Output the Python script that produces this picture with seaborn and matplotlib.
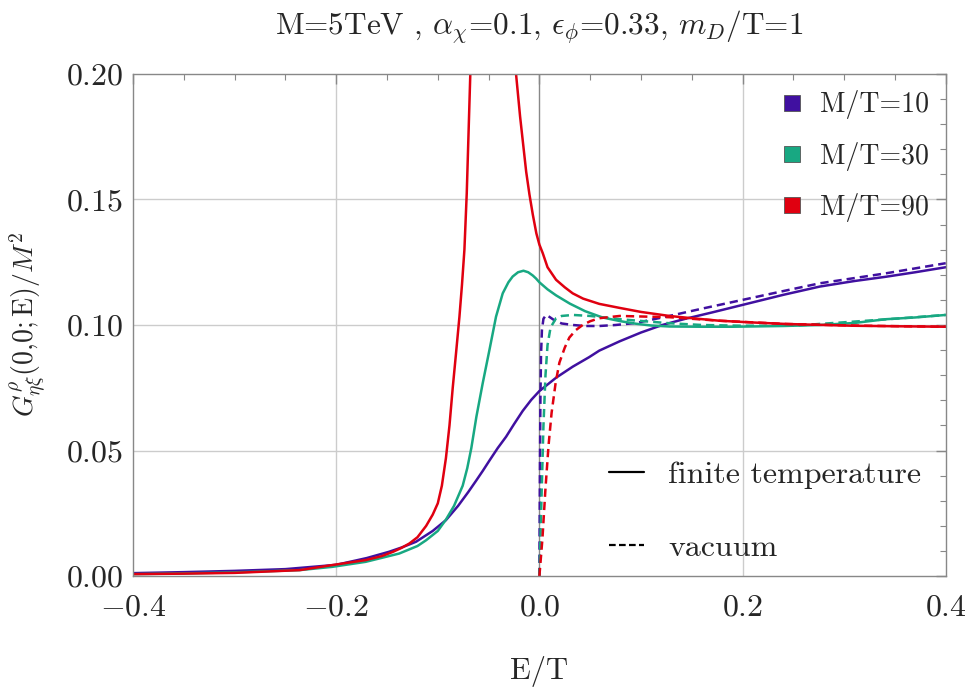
import numpy as np
import pandas as pd
import matplotlib
matplotlib.use("Agg")
import matplotlib.pyplot as plt
from matplotlib.lines import Line2D
from matplotlib.ticker import MultipleLocator, FixedLocator, FixedFormatter
import seaborn as sns

# ---- spectral function samples, G/M^2 versus E/T ----
# finite temperature, M/T = 10
E_th10 = [-0.40, -0.35, -0.30, -0.25, -0.20, -0.17, -0.148, -0.135, -0.1214, -0.105,
          -0.092, -0.08, -0.07, -0.0623, -0.0556, -0.0492, -0.041, -0.0328, -0.025,
          -0.0164, -0.008, 0.0, 0.0164, 0.0328, 0.049, 0.059, 0.079, 0.10, 0.121,
          0.144, 0.17, 0.20, 0.24, 0.276, 0.31, 0.341, 0.37, 0.40]
G_th10 = [0.0012, 0.0016, 0.0021, 0.0028, 0.0045, 0.0072, 0.0097, 0.0115, 0.0137, 0.018,
          0.0223, 0.028, 0.0335, 0.038, 0.042, 0.046, 0.051, 0.0555, 0.0605,
          0.0658, 0.0702, 0.0737, 0.0790, 0.0834, 0.0872, 0.0898, 0.0935, 0.097, 0.100,
          0.1025, 0.105, 0.108, 0.112, 0.1153, 0.1175, 0.1192, 0.121, 0.123]

# finite temperature, M/T = 30
E_th30 = [-0.40, -0.35, -0.30, -0.236, -0.204, -0.171, -0.138, -0.12, -0.1115, -0.10,
          -0.092, -0.084, -0.0755, -0.071, -0.067, -0.062, -0.0558, -0.0492, -0.0427,
          -0.0361, -0.0305, -0.0263, -0.021, -0.0157, -0.011, -0.0065, -0.0033, 0.0,
          0.008, 0.0164, 0.03, 0.045, 0.062, 0.08, 0.095, 0.11, 0.128, 0.16, 0.19,
          0.24, 0.2756, 0.31, 0.341, 0.37, 0.40]
G_th30 = [0.0008, 0.0011, 0.0015, 0.0024, 0.0037, 0.0057, 0.009, 0.012, 0.0143, 0.018,
          0.0225, 0.028, 0.036, 0.043, 0.051, 0.0635, 0.0768, 0.090, 0.1033,
          0.1126, 0.117, 0.1193, 0.121, 0.1216, 0.121, 0.1197, 0.1185, 0.117,
          0.1142, 0.1118, 0.1085, 0.1055, 0.103, 0.1015, 0.1005, 0.0998, 0.0994, 0.0993, 0.0993,
          0.0996, 0.100, 0.1008, 0.1023, 0.103, 0.104]

# finite temperature, M/T = 90 (narrow peak runs past the top of the frame)
E_th90 = [-0.40, -0.35, -0.30, -0.236, -0.204, -0.171, -0.155, -0.144, -0.136, -0.128,
          -0.12, -0.1115, -0.105, -0.10, -0.096, -0.092, -0.0885, -0.0853, -0.082,
          -0.0787, -0.0762, -0.0738, -0.0715, -0.068, -0.063, -0.057, -0.051, -0.046,
          -0.041, -0.035, -0.029, -0.023, -0.019, -0.016, -0.013, -0.0098, -0.0065,
          -0.003, 0.0, 0.0033, 0.008, 0.0164, 0.025, 0.0328, 0.043, 0.059, 0.079, 0.10,
          0.128, 0.15, 0.177, 0.21, 0.243, 0.308, 0.35, 0.40]
G_th90 = [0.0008, 0.0010, 0.0013, 0.0024, 0.0044, 0.0064, 0.008, 0.0097, 0.0112, 0.013,
          0.0155, 0.020, 0.0245, 0.029, 0.036, 0.047, 0.060, 0.0750, 0.089,
          0.1033, 0.116, 0.130, 0.1525, 0.20, 0.28, 0.40, 0.52, 0.55,
          0.50, 0.38, 0.28, 0.20, 0.183, 0.172, 0.161, 0.152, 0.144,
          0.1365, 0.132, 0.1286, 0.123, 0.118, 0.115, 0.1126, 0.1105, 0.1084, 0.1068, 0.1052,
          0.1036, 0.1027, 0.1017, 0.101, 0.1004, 0.0997, 0.0995, 0.0993]

# vacuum (zero below threshold)
E_vac10 = [0.0, 0.0005, 0.001, 0.0016, 0.0025, 0.004, 0.0066, 0.01, 0.015, 0.022, 0.033,
           0.045, 0.059, 0.075, 0.095, 0.128, 0.16, 0.20, 0.24, 0.276, 0.34, 0.40]
G_vac10 = [0.0, 0.04, 0.07, 0.088, 0.098, 0.1025, 0.104, 0.1032, 0.1018, 0.1006, 0.100,
           0.0996, 0.0996, 0.100, 0.1008, 0.1036, 0.1065, 0.110, 0.1135, 0.1166, 0.1205, 0.1246]

E_vac30 = [0.0, 0.002, 0.004, 0.006, 0.008, 0.011, 0.0164, 0.022, 0.033, 0.05, 0.079,
           0.128, 0.16, 0.20, 0.25, 0.308, 0.35, 0.40]
G_vac30 = [0.0, 0.03, 0.06, 0.08, 0.092, 0.099, 0.1027, 0.1036, 0.104, 0.1036, 0.1023,
           0.1007, 0.100, 0.0997, 0.0997, 0.1013, 0.1025, 0.104]

E_vac90 = [0.0, 0.003, 0.006, 0.009, 0.012, 0.016, 0.0197, 0.025, 0.0295, 0.036, 0.0426,
           0.05, 0.059, 0.079, 0.128, 0.177, 0.243, 0.32, 0.40]
G_vac90 = [0.0, 0.015, 0.035, 0.052, 0.065, 0.077, 0.085, 0.091, 0.095, 0.098, 0.100,
           0.1015, 0.1027, 0.1036, 0.1031, 0.1017, 0.1004, 0.0997, 0.0993]

series_names = ["M/T=10", "M/T=30", "M/T=90"]
colors = ["#4010a0", "#18a882", "#e00010"]
kinds = ["finite temperature", "vacuum"]

frames = []
for name, (Et, Gt, Ev, Gv) in zip(series_names, [
        (E_th10, G_th10, E_vac10, G_vac10),
        (E_th30, G_th30, E_vac30, G_vac30),
        (E_th90, G_th90, E_vac90, G_vac90)]):
    frames.append(pd.DataFrame({"E": Et, "G": Gt, "series": name, "kind": kinds[0]}))
    frames.append(pd.DataFrame({"E": Ev, "G": Gv, "series": name, "kind": kinds[1]}))
df = pd.concat(frames, ignore_index=True)

sns.set_style("white")
plt.rcParams["font.family"] = ["cmr10", "DejaVu Serif"]
plt.rcParams["mathtext.fontset"] = "cm"
plt.rcParams["axes.unicode_minus"] = False

fig = plt.figure(figsize=(9.71, 6.90), dpi=100)
ax = fig.add_axes([0.137, 0.165, 0.837, 0.728])

# grid and zero line
for gx in [-0.2, 0.2]:
    ax.axvline(gx, color="#cccccc", lw=1.0, zorder=0)
for gy in [0.05, 0.10, 0.15]:
    ax.axhline(gy, color="#cccccc", lw=1.0, zorder=0)
ax.axvline(0.0, color="#888888", lw=1.0, zorder=0.5)

sns.lineplot(data=df, x="E", y="G", hue="series", style="kind",
             palette=dict(zip(series_names, colors)),
             dashes={kinds[0]: "", kinds[1]: (3.3, 2)},
             hue_order=series_names, style_order=kinds,
             sort=False, estimator=None, lw=1.8, legend=False, ax=ax)

ax.set_xlim(-0.4, 0.4)
ax.set_ylim(0.0, 0.2)

xt = [-0.4, -0.2, 0.0, 0.2, 0.4]
yt = [0.0, 0.05, 0.10, 0.15, 0.20]
ax.xaxis.set_major_locator(FixedLocator(xt))
ax.xaxis.set_major_formatter(FixedFormatter([r"$-0.4$", r"$-0.2$", r"$0.0$", r"$0.2$", r"$0.4$"]))
ax.yaxis.set_major_locator(FixedLocator(yt))
ax.yaxis.set_major_formatter(FixedFormatter([r"$0.00$", r"$0.05$", r"$0.10$", r"$0.15$", r"$0.20$"]))
ax.xaxis.set_minor_locator(MultipleLocator(0.05))
ax.yaxis.set_minor_locator(MultipleLocator(0.01))
ax.tick_params(which="both", direction="in", top=True, right=True,
               color="#888888", labelsize=23)
ax.tick_params(axis="x", which="both", pad=13)
ax.tick_params(axis="y", which="both", pad=7)
ax.tick_params(which="major", length=7, width=1.0)
ax.tick_params(which="minor", length=4, width=0.8)
for sp in ax.spines.values():
    sp.set_color("#888888")
    sp.set_linewidth(1.0)

ax.set_xlabel("E/T", fontsize=22, labelpad=25)
ax.set_ylabel(r"$G^{\rho}_{\eta\xi}(0{,}0{;}\mathrm{E})/M^2$", fontsize=20, labelpad=12)
ax.set_title(r"M=5TeV , $\alpha_\chi$=0.1, $\epsilon_\phi$=0.33, $m_D$/T=1",
             fontsize=22.5, pad=28)

# colour legend
col_handles = [Line2D([], [], ls="none", marker="s", markersize=11,
                      markerfacecolor=c, markeredgecolor="#555555", markeredgewidth=0.6)
               for c in colors]
leg1 = ax.legend(col_handles, series_names, loc="upper right", frameon=False,
                 fontsize=20, labelspacing=0.8, handletextpad=0.5,
                 borderaxespad=0.2, handlelength=1.0, bbox_to_anchor=(1.0, 1.0))
ax.add_artist(leg1)

# line-style legend
sty_handles = [Line2D([], [], color="black", lw=1.6, ls="-"),
               Line2D([], [], color="black", lw=1.6, ls=(0, (3, 1.5)))]
ax.legend(sty_handles, kinds, loc="lower right", frameon=False, fontsize=23,
          labelspacing=1.4, handlelength=1.1, handletextpad=0.75,
          bbox_to_anchor=(1.005, -0.03))

fig.savefig("out.png", dpi=100)
